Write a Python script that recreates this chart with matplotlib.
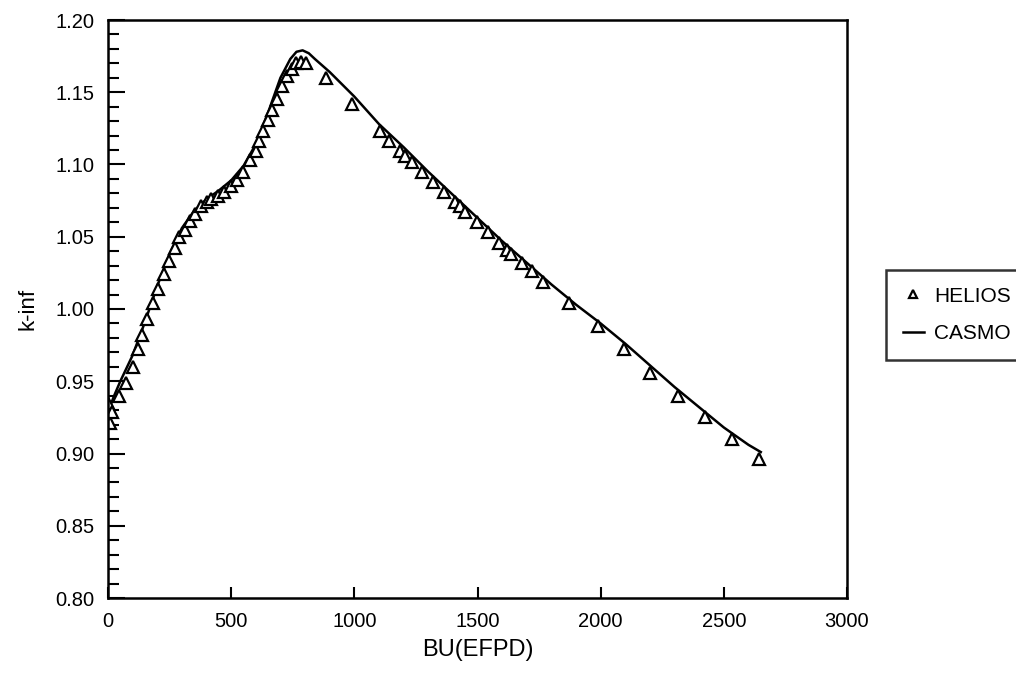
import numpy as np
import matplotlib
matplotlib.use("Agg")
import matplotlib.pyplot as plt
from matplotlib.ticker import MultipleLocator, FormatStrFormatter

plt.rcParams['font.family'] = ['Liberation Sans', 'DejaVu Sans']

# HELIOS points (burnup in EFPD, k-inf)
helios_bu = [0, 10, 18, 45, 75, 100, 120, 140, 160, 182,
             204, 228, 248, 270, 290, 312, 333, 355, 378, 400,
             420, 445, 470, 498, 522, 548, 575, 600, 615, 628,
             648, 665, 688, 708, 728, 745, 762, 782, 805, 885,
             990, 1105, 1140, 1185, 1205, 1235, 1275, 1318, 1365, 1408,
             1428, 1450, 1498, 1542, 1587, 1618, 1638, 1680, 1721, 1766,
             1870, 1990, 2095, 2200, 2314, 2424, 2533, 2643]
helios_k = [0.935, 0.921, 0.929, 0.940, 0.949, 0.960, 0.972, 0.982, 0.993, 1.004,
            1.014, 1.024, 1.033, 1.042, 1.050, 1.055, 1.061, 1.066, 1.071, 1.074,
            1.076, 1.078, 1.081, 1.085, 1.089, 1.095, 1.103, 1.109, 1.116, 1.123,
            1.131, 1.138, 1.145, 1.154, 1.161, 1.166, 1.170, 1.171, 1.170, 1.160,
            1.142, 1.123, 1.116, 1.109, 1.106, 1.102, 1.095, 1.088, 1.081, 1.074,
            1.071, 1.067, 1.060, 1.053, 1.046, 1.041, 1.038, 1.032, 1.026, 1.019,
            1.004, 0.988, 0.972, 0.956, 0.940, 0.925, 0.910, 0.896]

# CASMO curve
casmo_bu = [0, 25, 50, 100, 150, 200, 250, 300, 350, 400,
            450, 500, 550, 600, 650, 700, 740, 765, 790, 815, 840,
            900, 1000, 1100, 1200, 1300, 1400, 1500, 1600, 1700, 1800,
            1900, 2000, 2100, 2200, 2300, 2400, 2500, 2600, 2650]
casmo_k = [0.929, 0.940, 0.950, 0.968, 0.991, 1.016, 1.038, 1.056, 1.068, 1.076,
           1.082, 1.089, 1.099, 1.114, 1.136, 1.160, 1.173, 1.178, 1.179, 1.177, 1.173,
           1.164, 1.147, 1.128, 1.112, 1.095, 1.079, 1.063, 1.047, 1.032, 1.017,
           1.003, 0.990, 0.976, 0.961, 0.946, 0.932, 0.918, 0.906, 0.901]

fig = plt.figure(figsize=(10.16, 6.75), dpi=100, facecolor='white')
ax = fig.add_axes([108/1016, 1 - 598/675, (847 - 108)/1016, (598 - 20)/675])

ax.plot(casmo_bu, casmo_k, color='black', linewidth=1.8, label='CASMO')
ax.plot(helios_bu, helios_k, linestyle='none', marker='^', markersize=9,
        markerfacecolor='white', markeredgecolor='black', markeredgewidth=1.6,
        label='HELIOS')

ax.set_xlim(0, 3000)
ax.set_ylim(0.80, 1.20)
ax.xaxis.set_major_locator(MultipleLocator(500))
ax.yaxis.set_major_locator(MultipleLocator(0.05))
ax.yaxis.set_minor_locator(MultipleLocator(0.01))
ax.yaxis.set_major_formatter(FormatStrFormatter('%.2f'))

ax.tick_params(axis='both', which='both', direction='in', top=False, right=False,
               labelsize=14.5, width=1.5)
ax.tick_params(axis='y', which='major', length=12, pad=10)
ax.tick_params(axis='y', which='minor', length=8)
ax.tick_params(axis='x', which='major', length=8, pad=10)
for s in ax.spines.values():
    s.set_linewidth(1.8)

ax.set_xlabel('BU(EFPD)', fontsize=17, labelpad=6)
ax.set_ylabel('k-inf', fontsize=16, labelpad=12)

h, l = ax.get_legend_handles_labels()
leg = fig.legend([h[1], h[0]], [l[1], l[0]], loc='upper left',
                 bbox_to_anchor=(886/1016, 1 - 270/675), fontsize=15,
                 frameon=True, fancybox=False, edgecolor='black',
                 handlelength=1.0, handletextpad=0.5, borderpad=0.8,
                 labelspacing=0.9, markerscale=0.7, borderaxespad=0)
leg.get_frame().set_linewidth(1.8)

fig.savefig('out.png', dpi=100, facecolor='white')
